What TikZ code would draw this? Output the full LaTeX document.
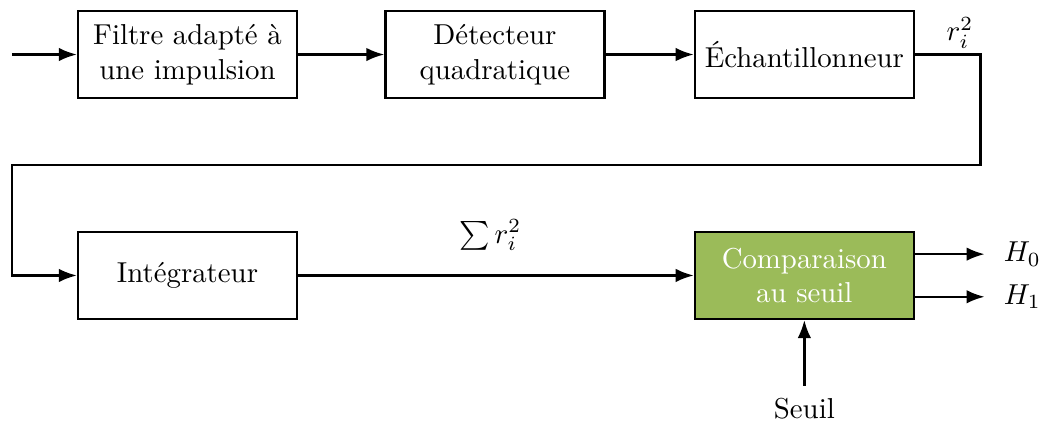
\documentclass[tikz,border=0pt]{standalone}
\usepackage{xcolor}
\usepackage{tikz}
\usetikzlibrary{arrows.meta,positioning}
\definecolor{seuilgreen}{HTML}{9BBB59}

\begin{document}
\begin{tikzpicture}[
  block/.style={draw=black, thick, minimum width=2.67cm, minimum height=1.06cm,
                align=center, inner sep=1pt},
  decision/.style={block, fill=seuilgreen, text=white},
  arrow/.style={-{Latex[length=2.2mm]}, thick}
]
\useasboundingbox (0,0) rectangle (12.71,-5.195);
\node[block] (filtre) at (2.287,-0.665) {Filtre adapté à\\une impulsion};
\node[block] (detect) at (6.037,-0.665) {Détecteur\\quadratique};
\node[block] (echant) at (9.811,-0.665) {Échantillonneur};
\node[block] (integ) at (2.287,-3.36) {Intégrateur};
\node[decision] (comp) at (9.811,-3.36) {Comparaison\\au seuil};
\coordinate (entree) at (0.146,-0.665);
\coordinate (h0) at (12.01,-3.10);
\coordinate (h1) at (12.01,-3.62);
\node (seuil) at (9.811,-4.98) {Seuil};
\node[anchor=west] (lh0) at (12.12,-3.10) {$H_0$};
\node[anchor=west] (lh1) at (12.12,-3.62) {$H_1$};
\node (ri) at (11.71,-0.40) {$r_i^2$};
\node (somme) at (5.98,-2.87) {$\sum r_i^2$};
\draw[arrow] (entree) -- (filtre);
\draw[arrow] (filtre) -- (detect);
\draw[arrow] (detect) -- (echant);
\draw[arrow] (echant.east) -- (11.96,-0.665) -- (11.96,-2.012) -- (0.146,-2.012)
  -- (0.146,-3.36) -- (integ.west);
\draw[arrow] (integ) -- (comp);
\draw[arrow] (comp.east |- h0) -- (h0);
\draw[arrow] (comp.east |- h1) -- (h1);
\draw[arrow] (seuil.north) ++(0,0.02) -- (comp.south);
\end{tikzpicture}
\end{document}
